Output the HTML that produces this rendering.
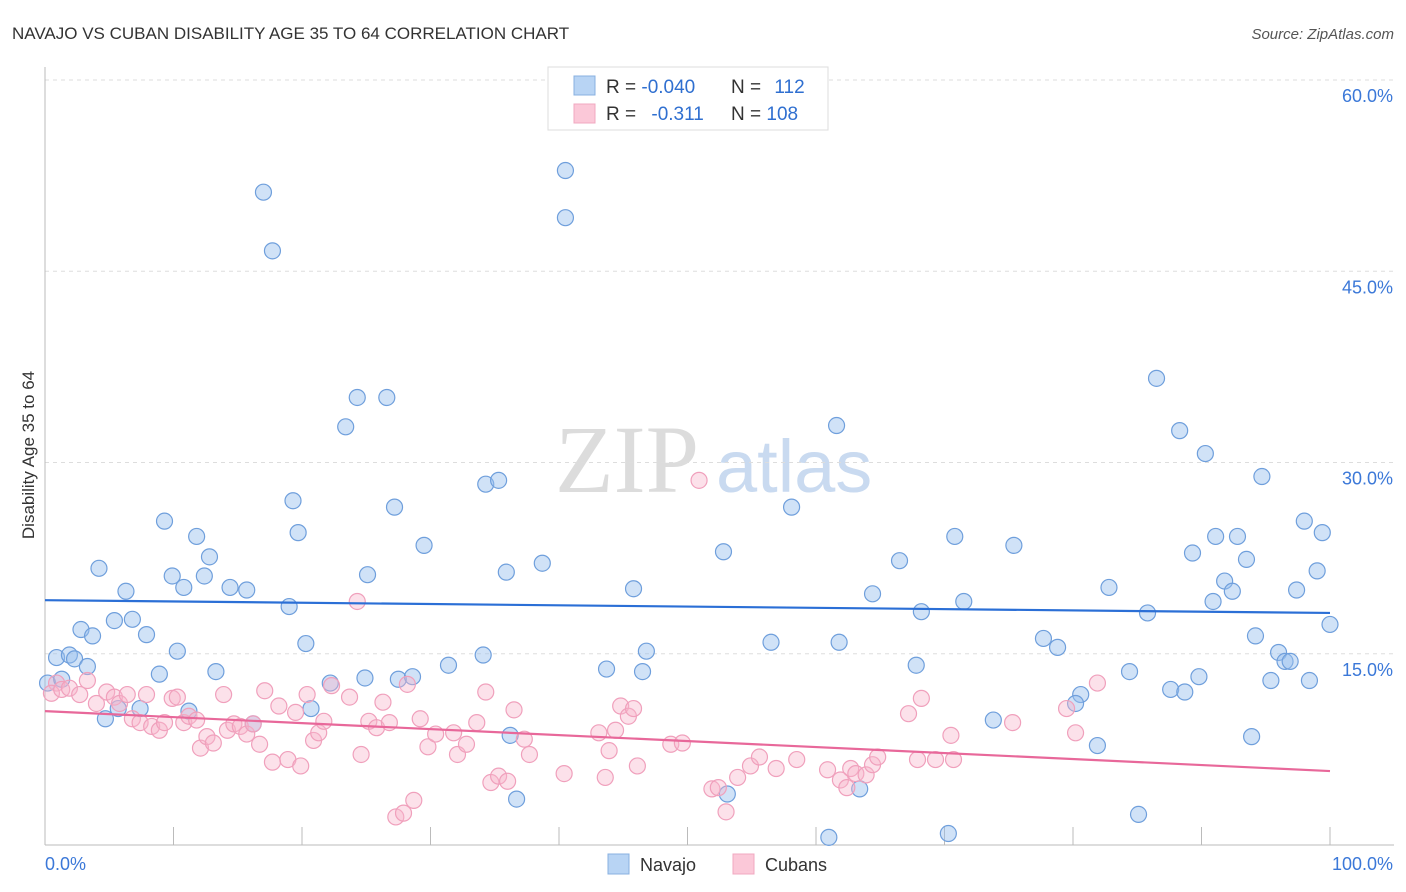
<!DOCTYPE html>
<html><head><meta charset="utf-8">
<style>
body{margin:0;background:#fff;font-family:"Liberation Sans",sans-serif;}
#wrap{position:relative;width:1406px;height:892px;overflow:hidden;}
</style></head>
<body>
<div id="wrap">
<svg id="chart" width="1406" height="892" xmlns="http://www.w3.org/2000/svg">
<text x="12" y="39" font-size="17" fill="#333" font-family="Liberation Sans, sans-serif">NAVAJO VS CUBAN DISABILITY AGE 35 TO 64 CORRELATION CHART</text>
<text x="1394" y="39" font-size="15" fill="#555" text-anchor="end" font-style="italic">Source: ZipAtlas.com</text>
<text x="34" y="455" font-size="17" fill="#333" text-anchor="middle" transform="rotate(-90 34 455)">Disability Age 35 to 64</text>
<text x="555" y="492" font-size="96" fill="#dcdcdc" font-family="Liberation Serif, serif">ZIP</text>
<text x="716" y="492" font-size="74" fill="#c9daf0">atlas</text>
<g id="grid"></g><g id="axes"></g><g id="pts"></g><g id="lines"></g>
<g>
<rect x="548" y="67" width="280" height="63" fill="#fff" stroke="#ddd"/>
<rect x="574" y="76" width="21" height="19" fill="#b8d4f4" stroke="#88b0e0"/>
<rect x="574" y="104" width="21" height="19" fill="#fbc8d8" stroke="#f0a8c0"/>
<text x="606" y="93" font-size="19" fill="#333">R = <tspan fill="#2f6fd0">-0.040</tspan></text>
<text x="731" y="93" font-size="19" fill="#333">N = <tspan fill="#2f6fd0" dx="8">112</tspan></text>
<text x="606" y="120" font-size="19" fill="#333">R = <tspan fill="#2f6fd0" dx="10">-0.311</tspan></text>
<text x="731" y="120" font-size="19" fill="#333">N = <tspan fill="#2f6fd0">108</tspan></text>
</g>
<g>
<rect x="608" y="854" width="21" height="20" fill="#b8d4f4" stroke="#88b0e0"/>
<text x="640" y="871" font-size="18" fill="#333">Navajo</text>
<rect x="733" y="854" width="21" height="20" fill="#fbc8d8" stroke="#f0a8c0"/>
<text x="765" y="871" font-size="18" fill="#333">Cubans</text>
</g>
</svg>
</div>
<script>
const navX=[17.0,17.7,40.5,40.5,86.5,24.3,26.6,23.4,61.6,88.3,90.3,94.7,34.3,35.3,19.3,27.2,58.1,9.3,19.7,11.8,98.0,99.4,70.8,91.1,92.8,29.5,52.8,12.8,75.4,89.3,93.5,66.5,38.7,4.2,25.1,35.9,99.0,9.9,12.4,14.4,10.8,6.3,15.7,45.8,82.8,91.8,92.4,64.4,97.4,71.5,19.0,90.9,68.2,85.8,5.4,6.8,2.8,7.9,3.7,100.0,20.3,56.5,61.8,77.7,78.8,94.2,46.8,10.3,0.9,1.9,2.3,3.3,34.1,96.0,96.5,96.9,67.8,31.4,43.7,46.5,8.9,13.3,84.4,0.2,1.3,22.2,24.9,27.5,28.6,89.8,95.4,98.4,87.6,88.7,80.6,80.2,11.2,20.7,16.2,5.7,7.4,4.7,73.8,36.2,93.9,81.9,53.1,63.4,36.7,85.1,61.0,70.3];
const navY=[51.2,46.6,52.9,49.2,36.6,35.1,35.1,32.8,32.9,32.5,30.7,28.9,28.3,28.6,27.0,26.5,26.5,25.4,24.5,24.2,25.4,24.5,24.2,24.2,24.2,23.5,23.0,22.6,23.5,22.9,22.4,22.3,22.1,21.7,21.2,21.4,21.5,21.1,21.1,20.2,20.2,19.9,20.0,20.1,20.2,20.7,19.9,19.7,20.0,19.1,18.7,19.1,18.3,18.2,17.6,17.7,16.9,16.5,16.4,17.3,15.8,15.9,15.9,16.2,15.5,16.4,15.2,15.2,14.7,14.9,14.6,14.0,14.9,15.1,14.4,14.4,14.1,14.1,13.8,13.6,13.4,13.6,13.6,12.7,13.0,12.7,13.1,13.0,13.2,13.2,12.9,12.9,12.2,12.0,11.8,11.1,10.5,10.7,9.5,10.7,10.7,9.9,9.8,8.6,8.5,7.8,4.0,4.4,3.6,2.4,0.6,0.9];
const cubX=[50.9,24.3,0.9,0.5,1.3,1.9,2.7,3.3,4.0,4.8,5.4,5.8,6.4,6.8,7.4,7.9,8.3,8.9,9.3,9.9,10.3,10.8,11.2,11.8,12.1,12.6,13.1,13.9,14.2,14.7,15.2,15.7,16.2,16.7,17.1,17.7,18.2,18.9,19.5,19.9,20.4,20.9,21.3,21.7,22.3,23.7,24.6,25.2,25.8,26.3,26.8,27.3,27.9,28.2,28.7,29.2,29.8,30.4,31.8,32.1,32.8,33.6,34.3,34.7,35.3,36.0,36.5,37.3,37.7,40.4,43.1,43.6,43.9,44.4,44.8,45.4,45.8,46.1,48.7,49.6,51.9,52.4,53.0,53.9,54.9,55.6,56.9,58.5,60.9,61.9,62.4,62.7,63.1,63.9,64.4,64.8,67.2,68.2,67.9,69.3,70.5,70.7,75.3,79.5,80.2,81.9];
const cubY=[28.6,19.1,12.7,11.9,12.2,12.3,11.8,12.9,11.1,12.0,11.6,11.1,11.8,9.9,9.6,11.8,9.3,9.0,9.6,11.5,11.6,9.6,10.1,9.8,7.6,8.5,8.0,11.8,9.0,9.5,9.3,8.7,9.5,7.9,12.1,6.5,10.9,6.7,10.4,6.2,11.8,8.2,8.8,9.7,12.5,11.6,7.1,9.7,9.2,11.2,9.6,2.2,2.5,12.6,3.5,9.9,7.7,8.7,8.8,7.1,7.9,9.6,12.0,4.9,5.4,5.0,10.6,8.3,7.1,5.6,8.8,5.3,7.4,9.0,10.9,10.1,10.7,6.2,7.9,8.0,4.4,4.5,2.6,5.3,6.2,6.9,6.0,6.7,5.9,5.1,4.5,6.0,5.6,5.5,6.3,6.9,10.3,11.5,6.7,6.7,8.6,6.7,9.6,10.7,8.8,12.7];
const navTrend=[19.2,18.2];
const cubTrend=[10.5,5.8];
const yTicks=[15,30,45,60];
const yTickLabels=["15.0%","30.0%","45.0%","60.0%"];
const xTicks=[0,10,20,30,40,50,60,70,80,90,100];

const NS="http://www.w3.org/2000/svg";
const X0=45,X1=1330,Y0=845,YS=12.75;
function xs(v){return X0+(X1-X0)*v/100;}
function ys(v){return Y0-v*YS;}
function mk(tag,attrs,parent){const e=document.createElementNS(NS,tag);for(const k in attrs)e.setAttribute(k,attrs[k]);parent.appendChild(e);return e;}
const grid=document.getElementById('grid'),axes=document.getElementById('axes'),pts=document.getElementById('pts'),lines=document.getElementById('lines');
yTicks.forEach((t,i)=>{
  const l=mk('line',{x1:X0,x2:1394,y1:ys(t),y2:ys(t),stroke:'#ddd','stroke-dasharray':'4 4'},grid);
  
  
  const tx=mk('text',{x:1393,y:ys(t)+22,'font-size':18,fill:'#3b78d8','text-anchor':'end'},axes);
  tx.textContent=yTickLabels[i];
  
  
});
const ax=mk('line',{x1:X0,x2:X0,y1:67,y2:Y0,stroke:'#bbb'},axes);


const bx=mk('line',{x1:X0,x2:1394,y1:Y0,y2:Y0,stroke:'#bbb'},axes);


xTicks.forEach(t=>{
  const l=mk('line',{x1:xs(t),x2:xs(t),y1:Y0,y2:Y0-18,stroke:'#bbb'},axes);
  
  
});
const xl0=mk('text',{x:45,y:870,'font-size':18,fill:'#3b78d8'},axes);xl0.textContent='0.0%';


const xl1=mk('text',{x:1393,y:870,'font-size':18,fill:'#3b78d8','text-anchor':'end'},axes);xl1.textContent='100.0%';


navX.forEach((v,i)=>{
  const c=mk('circle',{cx:xs(v),cy:ys(navY[i]),r:8,fill:'rgba(150,190,238,0.45)',stroke:'#6f9fdc','stroke-width':1.2},pts);
  
  
});
cubX.forEach((v,i)=>{
  const c=mk('circle',{cx:xs(v),cy:ys(cubY[i]),r:8,fill:'rgba(248,180,202,0.4)',stroke:'#f0a0bc','stroke-width':1.2},pts);
  
  
});
const nl=mk('line',{x1:xs(0),x2:xs(100),y1:ys(navTrend[0]),y2:ys(navTrend[1]),stroke:'#2b6fd6','stroke-width':2.2},lines);


const cl=mk('line',{x1:xs(0),x2:xs(100),y1:ys(cubTrend[0]),y2:ys(cubTrend[1]),stroke:'#e8689a','stroke-width':2.2},lines);


</script>
</body></html>
